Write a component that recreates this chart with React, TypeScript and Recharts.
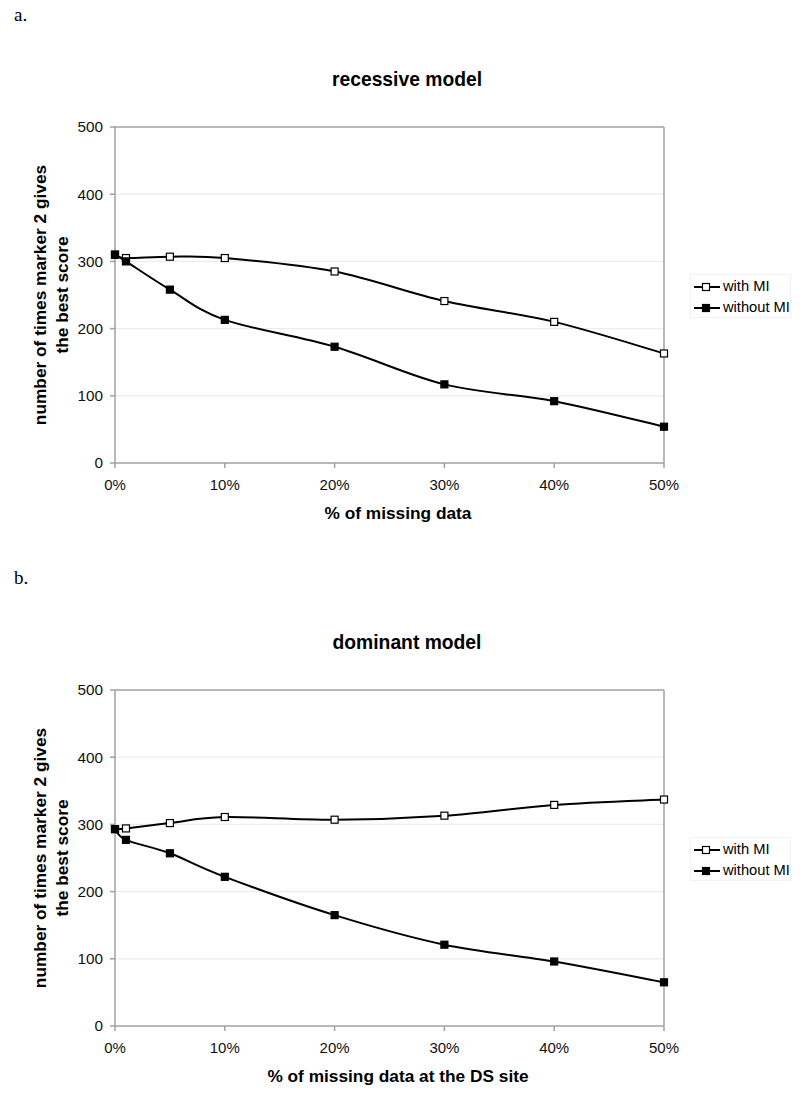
import React from 'react'
import {
  LineChart,
  Line,
  XAxis,
  YAxis,
  CartesianGrid,
  ReferenceLine,
} from 'recharts'

// % of missing data (x positions)
const missingPct = [0, 1, 5, 10, 20, 30, 40, 50]

// a. recessive model
const recessiveWithMI = [310, 305, 307, 305, 285, 241, 210, 163]
const recessiveWithoutMI = [310, 300, 258, 213, 173, 117, 92, 54]

// b. dominant model
const dominantWithMI = [293, 294, 302, 311, 307, 313, 329, 337]
const dominantWithoutMI = [293, 277, 257, 222, 165, 121, 96, 65]

const xTicks = [0, 10, 20, 30, 40, 50]
const yTicks = [0, 100, 200, 300, 400, 500]

const SANS = '"Liberation Sans", Arial, sans-serif'
const SERIF = '"Liberation Serif", "Times New Roman", serif'
const AXIS_GREY = '#a0a0a0'

function buildRows(withMI: number[], withoutMI: number[]) {
  return missingPct.map((pct, i) => ({
    pct,
    withMI: withMI[i],
    withoutMI: withoutMI[i],
  }))
}

// spreadsheet-style smoothed line (uniform Catmull-Rom through the points)
function smoothCurve(context: any) {
  let pts: number[][] = []
  return {
    areaStart() {},
    areaEnd() {},
    lineStart() {
      pts = []
    },
    point(x: number, y: number) {
      pts.push([+x, +y])
    },
    lineEnd() {
      if (!pts.length) return
      context.moveTo(pts[0][0], pts[0][1])
      for (let i = 0; i < pts.length - 1; i++) {
        const p0 = pts[i - 1] || pts[i]
        const p1 = pts[i]
        const p2 = pts[i + 1]
        const p3 = pts[i + 2] || p2
        context.bezierCurveTo(
          p1[0] + (p2[0] - p0[0]) / 6,
          p1[1] + (p2[1] - p0[1]) / 6,
          p2[0] - (p3[0] - p1[0]) / 6,
          p2[1] - (p3[1] - p1[1]) / 6,
          p2[0],
          p2[1],
        )
      }
    },
  }
}

function squareDot(fill: string) {
  return (props: any) => {
    const { cx, cy, index } = props
    if (cx == null || cy == null) return <g key={index} />
    return (
      <rect
        key={index}
        x={cx - 3.5}
        y={cy - 3.5}
        width={7}
        height={7}
        fill={fill}
        stroke="#000"
        strokeWidth={1.2}
      />
    )
  }
}

function LegendIcon({ fill }: { fill: string }) {
  return (
    <svg width={28} height={10} style={{ marginRight: 2, flexShrink: 0 }}>
      <line x1={1} y1={5} x2={27} y2={5} stroke="#000" strokeWidth={2} />
      <rect x={9.5} y={1.5} width={7} height={7} fill={fill} stroke="#000" strokeWidth={1.2} />
    </svg>
  )
}

interface PanelProps {
  top: number
  letter: string
  title: string
  xTitle: string
  withMI: number[]
  withoutMI: number[]
}

function Panel({ top, letter, title, xTitle, withMI, withoutMI }: PanelProps) {
  const rows = buildRows(withMI, withoutMI)
  return (
    <div style={{ position: 'absolute', left: 0, top, width: 800, height: 533 }}>
      <div
        style={{
          position: 'absolute',
          left: 14,
          top: 4,
          fontFamily: SERIF,
          fontSize: 19,
        }}
      >
        {letter}
      </div>
      <div
        style={{
          position: 'absolute',
          left: 207,
          width: 400,
          top: 69,
          textAlign: 'center',
          fontFamily: SANS,
          fontWeight: 'bold',
          fontSize: 19.3,
        }}
      >
        {title}
      </div>
      <LineChart
        width={800}
        height={533}
        data={rows}
        margin={{ top: 127, right: 136, left: 55, bottom: 30 }}
      >
        <CartesianGrid
          vertical={false}
          stroke="#ececec"
          strokeWidth={1.2}
          horizontalValues={[100, 200, 300, 400]}
        />
        <XAxis
          dataKey="pct"
          type="number"
          domain={[0, 50]}
          ticks={xTicks}
          tickFormatter={(v) => `${v}%`}
          stroke={AXIS_GREY}
          strokeWidth={1.5}
          tickSize={5}
          tickMargin={11}
          height={40}
          tick={{ fontSize: 15, fill: '#111', fontFamily: SANS }}
          label={{
            content: (p: any) => (
              <text
                x={398}
                y={p.viewBox.y + 56}
                textAnchor="middle"
                fontFamily={SANS}
                fontWeight="bold"
                fontSize={17.3}
                fill="#000"
              >
                {xTitle}
              </text>
            ),
          }}
        />
        <YAxis
          type="number"
          domain={[0, 500]}
          ticks={yTicks}
          width={60}
          stroke={AXIS_GREY}
          strokeWidth={1.5}
          tickSize={5}
          tickMargin={7}
          tick={{ fontSize: 15.3, fill: '#111', fontFamily: SANS }}
          label={{
            content: (p: any) => {
              const cy = p.viewBox.y + p.viewBox.height / 2
              return (
                <g fontFamily={SANS} fontWeight="bold" fontSize={17.3} fill="#000">
                  <text
                    x={40}
                    y={cy}
                    textAnchor="middle"
                    dominantBaseline="central"
                    transform={`rotate(-90 40 ${cy})`}
                  >
                    number of times marker 2 gives
                  </text>
                  <text
                    x={62}
                    y={cy}
                    textAnchor="middle"
                    dominantBaseline="central"
                    transform={`rotate(-90 62 ${cy})`}
                  >
                    the best score
                  </text>
                </g>
              )
            },
          }}
        />
        <ReferenceLine y={500} stroke={AXIS_GREY} strokeWidth={1.5} />
        <ReferenceLine x={50} stroke={AXIS_GREY} strokeWidth={1.5} />
        <Line
          type={smoothCurve as any}
          dataKey="withMI"
          stroke="#000"
          strokeWidth={2}
          dot={squareDot('#fff')}
          activeDot={false}
          isAnimationActive={false}
        />
        <Line
          type={smoothCurve as any}
          dataKey="withoutMI"
          stroke="#000"
          strokeWidth={2}
          dot={squareDot('#000')}
          activeDot={false}
          isAnimationActive={false}
        />
      </LineChart>
      <div
        style={{
          position: 'absolute',
          left: 690,
          top: 274,
          width: 101,
          height: 44,
          border: '1px solid #f2f2f2',
          boxSizing: 'border-box',
          padding: '1px 0 0 2px',
          fontFamily: SANS,
          fontSize: 14.7,
          lineHeight: '21px',
          color: '#000',
        }}
      >
        <div style={{ display: 'flex', alignItems: 'center', whiteSpace: 'nowrap' }}>
          <LegendIcon fill="#fff" />
          with MI
        </div>
        <div style={{ display: 'flex', alignItems: 'center', whiteSpace: 'nowrap' }}>
          <LegendIcon fill="#000" />
          without MI
        </div>
      </div>
    </div>
  )
}

export default function App() {
  return (
    <div
      style={{
        position: 'absolute',
        left: 0,
        top: 0,
        width: 800,
        height: 1096,
        background: '#fff',
      }}
    >
      <Panel
        top={0}
        letter="a."
        title="recessive model"
        xTitle="% of missing data"
        withMI={recessiveWithMI}
        withoutMI={recessiveWithoutMI}
      />
      <Panel
        top={563}
        letter="b."
        title="dominant model"
        xTitle="% of missing data at the DS site"
        withMI={dominantWithMI}
        withoutMI={dominantWithoutMI}
      />
    </div>
  )
}
